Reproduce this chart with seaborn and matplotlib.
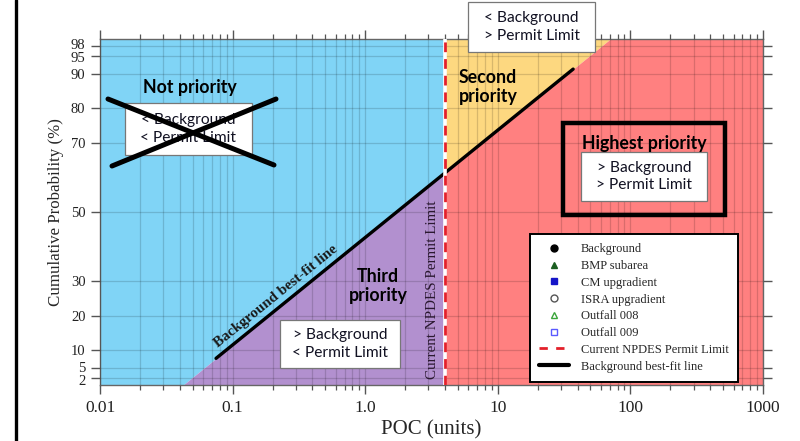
import numpy as np
import pandas as pd
import matplotlib
matplotlib.use("Agg")
import matplotlib.pyplot as plt
import seaborn as sns
from matplotlib.lines import Line2D
from matplotlib.patches import Rectangle
from matplotlib.ticker import FixedLocator, LogLocator, NullFormatter
from matplotlib.transforms import ScaledTranslation

# Background best-fit line: POC at each end and its cumulative probability (%)
fit_poc = [0.075, 37.0]
fit_prob = [7.7, 91.3]
# Current NPDES permit limit (POC units)
permit_limit = 4.0

x_ticks = [0.01, 0.1, 1.0, 10, 100, 1000]
x_tick_labels = ["0.01", "0.1", "1.0", "10", "100", "1000"]
y_ticks = [2, 5, 10, 20, 30, 50, 70, 80, 90, 95, 98]

legend_labels = ["Background", "BMP subarea", "CM upgradient", "ISRA upgradient",
                 "Outfall 008", "Outfall 009", "Current NPDES Permit Limit",
                 "Background best-fit line"]

BLUE = "#80d4f6"
PURPLE = "#b290cf"
YELLOW = "#fdd880"
RED = "#ff8080"

sns.set_theme(style="ticks")
plt.rcParams["font.family"] = ["Liberation Serif", "DejaVu Serif"]
SANS = ["Lato", "DejaVu Sans"]

W, H = 800, 441
fig = plt.figure(figsize=(W / 100, H / 100), dpi=100)
ax = fig.add_axes([100 / W, 1 - 385 / H, 663 / W, 346 / H])
ax.set_xscale("log")
ax.set_xlim(0.01, 1000)
ax.set_ylim(0, 100)

# straight fit in log(POC) vs probability, extended across the plot
slope, intercept = np.polyfit(np.log10(fit_poc), fit_prob, 1)


def fit_line(x):
    return np.clip(slope * np.log10(x) + intercept, 0, 100)


xs_left = np.logspace(-2, np.log10(permit_limit), 600)
xs_right = np.logspace(np.log10(permit_limit), 3, 600)
ax.fill_between(xs_left, fit_line(xs_left), 100, color=BLUE, lw=0, zorder=0.5)
ax.fill_between(xs_left, 0, fit_line(xs_left), color=PURPLE, lw=0, zorder=0.5)
ax.fill_between(xs_right, fit_line(xs_right), 100, color=YELLOW, lw=0, zorder=0.5)
ax.fill_between(xs_right, 0, fit_line(xs_right), color=RED, lw=0, zorder=0.5)

# grid over the coloured zones
ax.set_axisbelow(False)
ax.xaxis.set_major_locator(FixedLocator(x_ticks))
ax.xaxis.set_minor_locator(LogLocator(base=10, subs=np.arange(2, 10)))
ax.xaxis.set_minor_formatter(NullFormatter())
ax.set_xticklabels(x_tick_labels)
ax.set_yticks(y_ticks)
ax.grid(True, which="both", axis="x", color="black", alpha=0.15, lw=0.9)
ax.grid(True, which="major", axis="y", color="black", alpha=0.15, lw=0.9)

ax.tick_params(axis="both", which="both", direction="out", top=True, right=True,
               color="#555555", labelcolor="#222222")
ax.tick_params(axis="both", which="major", length=6.5, width=1)
ax.tick_params(axis="both", which="minor", length=3.5, width=0.9)
ax.tick_params(axis="x", labelsize=12.5, pad=4)
ax.tick_params(axis="y", labelsize=10.5, pad=4)
for s in ax.spines.values():
    s.set_color("#666666")
    s.set_linewidth(1)

# nudge the tightly packed probability labels apart
nudge = {98: 2, 95: -1, 5: 1, 2: -2}
for val, lab in zip(y_ticks, ax.get_yticklabels()):
    if val in nudge:
        lab.set_transform(lab.get_transform() +
                          ScaledTranslation(0, nudge[val] / 100, fig.dpi_scale_trans))

# best-fit line
fit_df = pd.DataFrame({"POC": fit_poc, "Probability": fit_prob})
sns.lineplot(data=fit_df, x="POC", y="Probability", color="black", lw=2.4,
             ax=ax, zorder=4, legend=False)
ax.set_xlabel("POC (units)", fontsize=15, labelpad=3)
ax.set_ylabel("Cumulative Probability (%)", fontsize=12.2)
ax.yaxis.set_label_coords(-0.055, 0.5)

# permit limit
ax.axvline(permit_limit, color="white", lw=2.6, zorder=5)
ax.axvline(permit_limit, color="#e3202a", lw=2.0, ls=(0, (3.5, 2.5)), zorder=6)

# rotated labels on the lines
p1 = ax.transData.transform((fit_poc[0], fit_prob[0]))
p2 = ax.transData.transform((fit_poc[1], fit_prob[1]))
angle = np.degrees(np.arctan2(p2[1] - p1[1], p2[0] - p1[0]))


def fx(x):
    return x / W


def fy(y):
    return 1 - y / H


fig.text(fx(276), fy(296), "Background best-fit line", rotation=angle,
         ha="center", va="center", fontsize=10.8, fontweight="bold",
         color="#1a1a1a", rotation_mode="anchor")
fig.text(fx(433), fy(290), "Current NPDES Permit Limit", rotation=90,
         ha="center", va="center", fontsize=10.8, color="#2a1830",
         rotation_mode="anchor")

# legend
handles = [
    Line2D([], [], ls="none", marker="o", ms=5, mfc="black", mec="black"),
    Line2D([], [], ls="none", marker="^", ms=5, mfc="#1b5e20", mec="#1b5e20"),
    Line2D([], [], ls="none", marker="s", ms=5, mfc="#1515c8", mec="#1515c8"),
    Line2D([], [], ls="none", marker="o", ms=5, mfc="none", mec="#555555"),
    Line2D([], [], ls="none", marker="^", ms=5, mfc="none", mec="#3aa53a"),
    Line2D([], [], ls="none", marker="s", ms=5, mfc="none", mec="#5a5aff"),
    Line2D([], [], color="#e3202a", lw=2, ls=(0, (3, 3))),
    Line2D([], [], color="black", lw=3),
]
leg = ax.legend(handles, legend_labels, loc="lower right",
                bbox_to_anchor=(0.962, 0.009), borderaxespad=0,
                fontsize=9, handlelength=2.4, handletextpad=0.9,
                labelspacing=0.38, borderpad=0.75, fancybox=False,
                framealpha=1, edgecolor="black")
leg.get_frame().set_linewidth(1.4)
leg.set_zorder(10)


def box(x0, y0, x1, y1, lines, fs=11.2):
    fig.add_artist(Rectangle((fx(x0), fy(y1)), fx(x1) - fx(x0), fy(y0) - fy(y1),
                             transform=fig.transFigure, fc="white",
                             ec="#777777", lw=0.9, zorder=20))
    fig.text(fx((x0 + x1) / 2), fy((y0 + y1) / 2), "\n".join(lines),
             ha="center", va="center", fontsize=fs, family=SANS,
             linespacing=1.35, color="#111122", zorder=21)


def title(x, y, s, fs=12.8, ha="center"):
    fig.text(fx(x), fy(y), s, ha=ha, va="center", fontsize=fs,
             family=SANS, fontweight="bold", color="black", linespacing=1.2,
             zorder=21)


# not priority (crossed out)
title(190, 88, "Not priority")
box(125, 103, 252, 155, ["< Background", "< Permit Limit"])
for (xa, ya, xb, yb) in [(108, 99, 274, 165), (112, 166, 276, 99)]:
    fig.add_artist(Line2D([fx(xa), fx(xb)], [fy(ya), fy(yb)], color="black",
                          lw=3.6, transform=fig.transFigure, zorder=22))

# second priority
box(468, 2, 595, 52, ["< Background", "> Permit Limit"])
title(459, 87, "Second\npriority", ha="left")

# highest priority
fig.add_artist(Rectangle((fx(563), fy(215)), fx(725) - fx(563), fy(123) - fy(215),
                         transform=fig.transFigure, fc="none", ec="black",
                         lw=3.2, zorder=20))
title(644, 143, "Highest priority")
box(581, 152, 707, 201, ["> Background", "> Permit Limit"])

# third priority
title(378, 286, "Third\npriority")
box(280, 320, 400, 368, ["> Background", "< Permit Limit"])

# page border on the left
fig.add_artist(Line2D([fx(16), fx(16)], [0, 1], color="black", lw=2.4,
                      transform=fig.transFigure, zorder=30))

fig.savefig("out.png", dpi=100)
